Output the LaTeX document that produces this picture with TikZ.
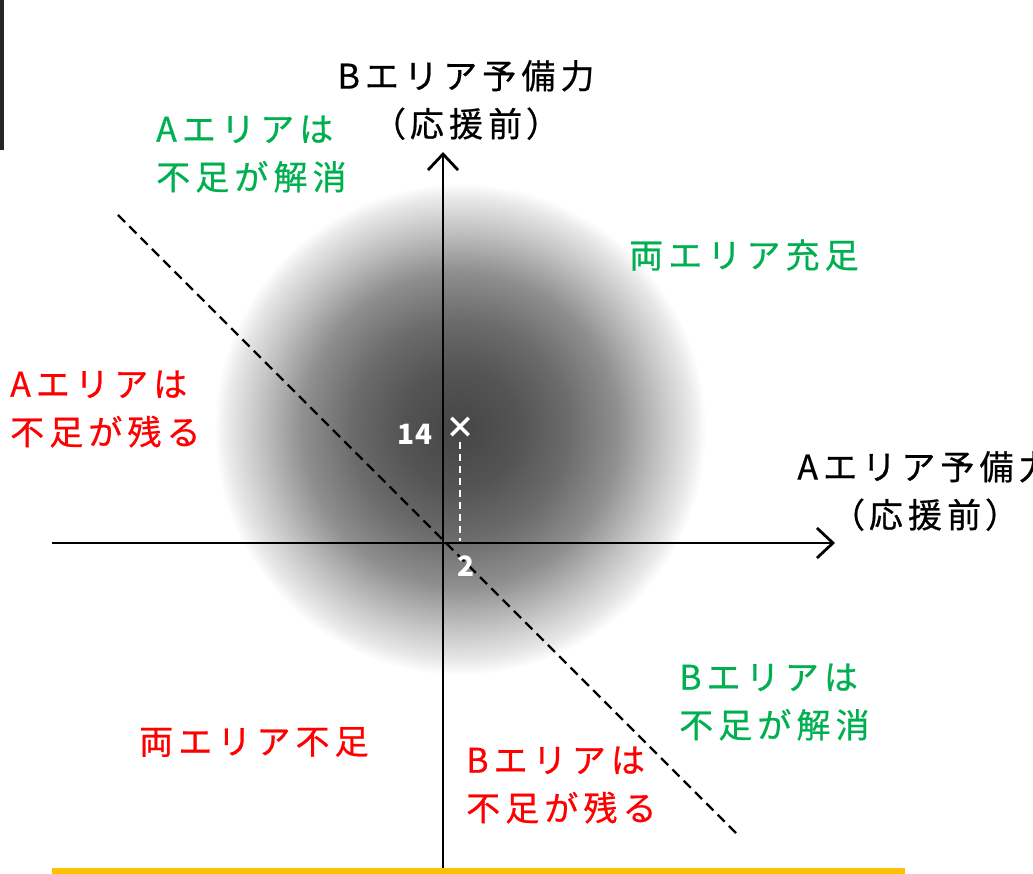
\documentclass[tikz,border=0pt]{standalone}
\usepackage{fontspec}
\setmainfont{Noto Sans CJK JP}
\newfontfamily\jfont{Noto Sans CJK JP}[LetterSpace=15,FakeBold=0.6]
\newfontfamily\palfont{Noto Sans CJK JP}[LetterSpace=15,FakeBold=0.6,RawFeature=+palt]
\usetikzlibrary{arrows.meta}
\pgfdeclareradialshading{glow}{\pgfpoint{0bp}{0bp}}{color(0bp)=(black!73);color(6bp)=(black!67);color(11bp)=(black!58);color(16bp)=(black!44);color(20bp)=(black!25);color(23.5bp)=(black!9);color(25bp)=(white);color(50bp)=(white)}
\definecolor{grn}{HTML}{00B050}
\definecolor{rd}{HTML}{FF0000}
\definecolor{ylw}{HTML}{FFC000}
\tikzset{
  lbl/.style={font=\fontsize{34}{48}\selectfont\jfont, inner sep=0pt, align=left},
  axis/.style={line width=2.8pt, -{Straight Barb[length=16pt,width=30pt,line width=2.8pt]}},
  diag/.style={line width=2.2pt, dash pattern=on 10pt off 6pt},
  num/.style={white, font=\fontsize{28}{28}\selectfont\bfseries, inner sep=0pt},
}
\begin{document}
\begin{tikzpicture}[x=1pt,y=-1pt]
\useasboundingbox (0,0) rectangle (1033,874);
\fill[white] (0,0) rectangle (1033,874);
% left vertical bar
\draw[line width=3.5pt, black!85] (2,0) -- (2,150);
% shaded circle
\shade[shading=glow] (460,429) circle (246);
% axes
\coordinate (O) at (443,543);
\coordinate (xs) at (52,543);
\coordinate (xe) at (835,543);
\coordinate (ys) at (443,868);
\coordinate (ye) at (443,152);
\draw[axis] (xs) -- (xe);
\draw[axis] (ys) -- (ye);
% dashed diagonal
\coordinate (d1) at (118,215);
\coordinate (d2) at (738,835);
\draw[diag] (d1) -- (d2);
% point
\node[white, font=\fontsize{30}{30}\selectfont\bfseries, inner sep=0pt] (pt) at (460,428) {×};
\coordinate (ptx) at (460,541);
\draw[white, line width=2pt, dash pattern=on 7pt off 5pt] (460,442) -- (ptx);
\node[num] (v14) at (415,434) {14};
\node[num] (v2) at (466,566) {2};
% yellow line
\fill[ylw] (52,868) rectangle (905,874);
% labels
\node[lbl, align=center] (by) at (466,100) {Bエリア予備力\\{\palfont （応援前）}};
\node[lbl, align=center] (ax) at (925,491) {Aエリア予備力\\{\palfont （応援前）}};
\node[lbl, text=grn, anchor=west] (g1) at (156,154) {Aエリアは\\不足が解消};
\node[lbl, text=grn, anchor=west] (g2) at (629,255) {両エリア充足};
\node[lbl, text=rd, anchor=west] (r1) at (10,409) {Aエリアは\\不足が残る};
\node[lbl, text=grn, anchor=west] (g3) at (679,702) {Bエリアは\\不足が解消};
\node[lbl, text=rd, anchor=west] (r2) at (139,742) {両エリア不足};
\node[lbl, text=rd, anchor=west] (r3) at (466,785) {Bエリアは\\不足が残る};
\end{tikzpicture}
\end{document}
